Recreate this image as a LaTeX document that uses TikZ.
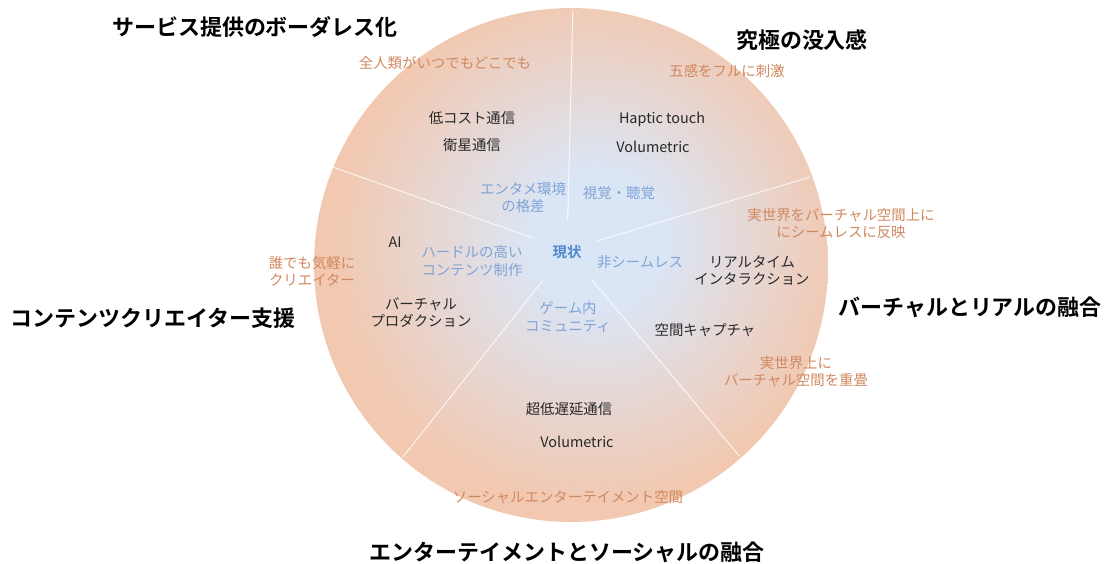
\documentclass[tikz,border=0pt]{standalone}
\usepackage{fontspec}
\setmainfont{Noto Sans CJK JP}[BoldFont={Noto Sans CJK JP Bold}]
\usetikzlibrary{calc,positioning}
\definecolor{fg}{RGB}{40,40,40}
\definecolor{warm}{RGB}{208,136,96}
\definecolor{cool}{RGB}{128,164,214}
\definecolor{now}{RGB}{78,138,206}
\definecolor{rim}{RGB}{242,200,176}
\definecolor{core}{RGB}{218,230,246}
\pgfdeclareradialshading{disc}{\pgfpoint{3bp}{3bp}}{color(0bp)=(core); color(6bp)=(core); color(25bp)=(rim); color(50bp)=(rim)}
\tikzset{
  every picture/.style={x=0.02cm, y=-0.02cm},
  every node/.style={fg, inner sep=0pt, align=center, font=\fontsize{8.2}{9.7}\selectfont},
  % Schrift
  title/.style={text=black, font=\fontsize{12.5}{14}\selectfont\bfseries},
  goal/.style={text=warm},
  tech/.style={text=fg},
  gap/.style={text=cool},
  % Linien
  spoke/.style={white, line width=0.6pt, opacity=0.75},
}

\begin{document}
\begin{tikzpicture}
  \useasboundingbox (0,0) rectangle (1109,564);
  % ---------- Scheibe ----------
  \coordinate (C) at (571,265);
  \shade[shading=disc] (C) circle[radius=5.14cm];
  \coordinate (hub) at (567,250);
  \foreach \a/\ri/\ro in {88.6/30/240, 160.5/36/248, 16.7/32/254, 231.6/40/264, 309.9/38/269}
    \draw[spoke] ($(hub)+(-\a:\ri)$) -- ($(hub)+(-\a:\ro)$);
  % ---------- Titel ----------
  \node[title] (tBorder) at (255,27) {サービス提供のボーダレス化};
  \node[title] (tImmersion) at (802,40) {究極の没入感};
  \node[title] (tCreator) at (153,318) {コンテンツクリエイター支援};
  \node[title] (tFusion) at (970,307) {バーチャルとリアルの融合};
  \node[title] (tSocial) at (567,552) {エンターテイメントとソーシャルの融合};
  % ---------- Ziele ----------
  \node[goal] (gAll) at (445,63) {全人類がいつでもどこでも};
  \node[goal] (gSenses) at (727,71) {五感をフルに刺激};
  \node[goal] (gMirror) at (841,224) {実世界をバーチャル空間上に\\にシームレスに反映};
  \node[goal] (gOverlay) at (796,372) {実世界上に\\バーチャル空間を重畳};
  \node[goal] (gSpace) at (568,497) {ソーシャルエンターテイメント空間};
  \node[goal] (gCreate) at (312,271) {誰でも気軽に\\クリエイター};
  % ---------- Technik ----------
  \node[tech] (kLowcost) at (472,118) {低コスト通信};
  \node[tech] (kSat) at (472,145) {衛星通信};
  \node[tech] (kHaptic) at (662,119) {Haptic touch};
  \node[tech] (kVol) at (653,147) {Volumetric};
  \node[tech] (kRealtime) at (752,271) {リアルタイム\\インタラクション};
  \node[tech] (kCapture) at (705,330) {空間キャプチャ};
  \node[tech] (kLatency) at (569,409) {超低遅延通信};
  \node[tech] (kVolLow) at (577,442) {Volumetric};
  \node[tech] (kProd) at (421,313) {バーチャル\\プロダクション};
  \node[tech] (kAI) at (395,242) {AI};
  % ---------- Ist-Zustand ----------
  \node[text=now, font=\fontsize{8.2}{9.7}\selectfont\bfseries] (now) at (567,252) {現状};
  \node[gap] (pEnv) at (523,198) {エンタメ環境\\の格差};
  \node[gap] (pSense) at (619,193) {視覚・聴覚};
  \node[gap] (pHurdle) at (472,261) {ハードルの高い\\コンテンツ制作};
  \node[gap] (pSeam) at (640,262) {非シームレス};
  \node[gap] (pCommunity) at (568,317) {ゲーム内\\コミュニティ};
\end{tikzpicture}
\end{document}
